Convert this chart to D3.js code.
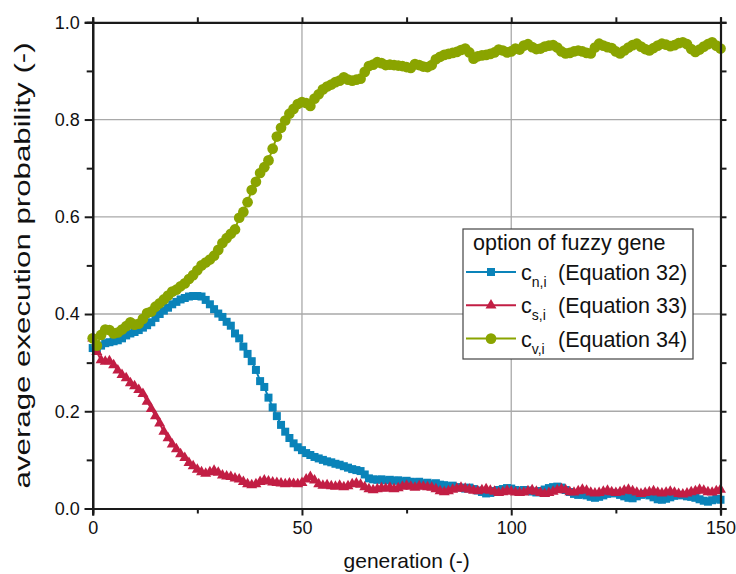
<!DOCTYPE html>
<html>
<head>
<meta charset="utf-8">
<script src="https://cdn.jsdelivr.net/npm/d3@7"></script>
<style>
  html, body { margin: 0; padding: 0; background: #fff; }
  svg { display: block; font-family: "Liberation Sans", Arial, sans-serif; }
</style>
</head>
<body>
<svg id="chart" width="736" height="574"></svg>
<script>
// generation index 0..150
const generations = d3.range(0, 151);

// c_n,i (Equation 32)
const cnValues = [
  0.330, 0.326, 0.335, 0.340, 0.342, 0.344, 0.346, 0.350, 0.356, 0.360,
  0.363, 0.367, 0.372, 0.377, 0.383, 0.392, 0.400, 0.407, 0.413, 0.420,
  0.425, 0.430, 0.433, 0.436, 0.437, 0.437, 0.436, 0.429, 0.420, 0.410,
  0.401, 0.394, 0.384, 0.376, 0.360, 0.350, 0.333, 0.318, 0.303, 0.285,
  0.262, 0.250, 0.228, 0.208, 0.190, 0.172, 0.158, 0.145, 0.134, 0.126,
  0.120, 0.114, 0.110, 0.106, 0.103, 0.100, 0.097, 0.095, 0.092, 0.090,
  0.087, 0.084, 0.081, 0.079, 0.077, 0.070, 0.062, 0.060, 0.059, 0.060,
  0.058, 0.059, 0.057, 0.058, 0.056, 0.057, 0.055, 0.054, 0.055, 0.052,
  0.053, 0.050, 0.052, 0.049, 0.048, 0.046, 0.047, 0.044, 0.043, 0.041,
  0.043, 0.040, 0.037, 0.034, 0.031, 0.032, 0.036, 0.038, 0.040, 0.042,
  0.041, 0.038, 0.036, 0.038, 0.037, 0.035, 0.033, 0.036, 0.039, 0.042,
  0.044, 0.045, 0.043, 0.038, 0.034, 0.030, 0.028, 0.029, 0.027, 0.024,
  0.022, 0.024, 0.027, 0.030, 0.032, 0.031, 0.028, 0.025, 0.022, 0.021,
  0.025, 0.028, 0.030, 0.027, 0.023, 0.019, 0.018, 0.020, 0.023, 0.026,
  0.028, 0.027, 0.025, 0.024, 0.022, 0.019, 0.016, 0.014, 0.017, 0.020,
  0.018
];

// c_s,i (Equation 33)
const csValues = [
  0.350, 0.322, 0.305, 0.302, 0.303, 0.295, 0.284, 0.275, 0.268, 0.258,
  0.252, 0.244, 0.236, 0.220, 0.205, 0.190, 0.175, 0.158, 0.145, 0.132,
  0.122, 0.112, 0.104, 0.094, 0.087, 0.080, 0.075, 0.072, 0.075, 0.078,
  0.074, 0.068, 0.066, 0.065, 0.062, 0.060, 0.055, 0.050, 0.048, 0.050,
  0.055, 0.058, 0.056, 0.054, 0.053, 0.052, 0.050, 0.052, 0.051, 0.050,
  0.053, 0.060, 0.065, 0.058, 0.050, 0.047, 0.048, 0.046, 0.045, 0.047,
  0.044, 0.046, 0.050, 0.052, 0.049, 0.044, 0.040, 0.038, 0.040, 0.042,
  0.041, 0.043, 0.040, 0.042, 0.045, 0.047, 0.045, 0.043, 0.046, 0.045,
  0.044, 0.043, 0.040, 0.036, 0.034, 0.036, 0.039, 0.041, 0.043, 0.041,
  0.039, 0.037, 0.036, 0.038, 0.040, 0.037, 0.035, 0.032, 0.034, 0.037,
  0.035, 0.033, 0.032, 0.033, 0.036, 0.038, 0.035, 0.032, 0.030, 0.032,
  0.035, 0.038, 0.040, 0.038, 0.034, 0.033, 0.036, 0.039, 0.037, 0.033,
  0.031, 0.032, 0.035, 0.037, 0.034, 0.032, 0.034, 0.037, 0.039, 0.036,
  0.033, 0.030, 0.032, 0.034, 0.036, 0.033, 0.031, 0.033, 0.035, 0.033,
  0.030, 0.029, 0.031, 0.034, 0.036, 0.039, 0.037, 0.034, 0.033, 0.036,
  0.039
];

// c_v,i (Equation 34)
const cvValues = [
  0.350, 0.335, 0.357, 0.368, 0.367, 0.360, 0.362, 0.368, 0.375, 0.383,
  0.378, 0.380, 0.390, 0.402, 0.405, 0.415, 0.422, 0.430, 0.438, 0.446,
  0.450, 0.457, 0.463, 0.472, 0.480, 0.490, 0.500, 0.506, 0.512, 0.520,
  0.532, 0.546, 0.556, 0.565, 0.574, 0.598, 0.610, 0.630, 0.655, 0.672,
  0.690, 0.702, 0.716, 0.740, 0.765, 0.783, 0.798, 0.812, 0.822, 0.832,
  0.836, 0.834, 0.828, 0.843, 0.852, 0.862, 0.868, 0.872, 0.877, 0.880,
  0.887, 0.882, 0.880, 0.882, 0.884, 0.898, 0.910, 0.913, 0.918, 0.916,
  0.912, 0.913, 0.912, 0.911, 0.910, 0.908, 0.906, 0.914, 0.912, 0.909,
  0.908, 0.912, 0.924, 0.929, 0.933, 0.935, 0.937, 0.939, 0.943, 0.946,
  0.938, 0.925, 0.930, 0.932, 0.933, 0.935, 0.938, 0.944, 0.942, 0.938,
  0.940, 0.946, 0.944, 0.952, 0.955, 0.949, 0.945, 0.946, 0.950, 0.952,
  0.953, 0.948, 0.940, 0.936, 0.937, 0.940, 0.942, 0.940, 0.937, 0.936,
  0.948, 0.956, 0.952, 0.949, 0.947, 0.940, 0.936, 0.942, 0.948, 0.953,
  0.956, 0.950, 0.945, 0.942, 0.947, 0.952, 0.956, 0.954, 0.951, 0.953,
  0.957, 0.959, 0.955, 0.945, 0.939, 0.944, 0.950, 0.955, 0.959, 0.952,
  0.946
];

const xTickLabels = [0, 50, 100, 150];
const yTickLabels = [0.0, 0.2, 0.4, 0.6, 0.8, 1.0];
const legendTitle = "option of fuzzy gene";
const seriesNames = ["n,i", "s,i", "v,i"];
const seriesEquations = ["(Equation 32)", "(Equation 33)", "(Equation 34)"];

const series = [
  { sub: seriesNames[0], eq: seriesEquations[0], values: cnValues, color: "#0a83b9", symbol: d3.symbolSquare, size: 64 },
  { sub: seriesNames[1], eq: seriesEquations[1], values: csValues, color: "#c21e44", symbol: d3.symbolTriangle, size: 52 },
  { sub: seriesNames[2], eq: seriesEquations[2], values: cvValues, color: "#8aa400", symbol: d3.symbolCircle, size: 90 }
];

const svg = d3.select("#chart");
const plot = { left: 92.7, right: 720.5, top: 22.3, bottom: 508.5 };

const x = d3.scaleLinear().domain([0, 150]).range([plot.left, plot.right]);
const y = d3.scaleLinear().domain([0, 1]).range([plot.bottom, plot.top]);

// grid
const grid = svg.append("g").attr("stroke", "#a9a9a9").attr("stroke-width", 1.3);
[50, 100].forEach(v => grid.append("line")
  .attr("x1", x(v)).attr("x2", x(v)).attr("y1", plot.top).attr("y2", plot.bottom));
[0.2, 0.4, 0.6, 0.8].forEach(v => grid.append("line")
  .attr("x1", plot.left).attr("x2", plot.right).attr("y1", y(v)).attr("y2", y(v)));

// series: lines + markers
const line = d3.line().x((d, i) => x(generations[i])).y(d => y(d));
series.forEach(s => {
  const g = svg.append("g");
  g.append("path").datum(s.values)
    .attr("d", line).attr("fill", "none")
    .attr("stroke", s.color).attr("stroke-width", 2);
  g.selectAll("path.m").data(s.values).join("path")
    .attr("class", "m")
    .attr("d", d3.symbol().type(s.symbol).size(s.size))
    .attr("transform", (d, i) => `translate(${x(generations[i])},${y(d)})`)
    .attr("fill", s.color);
});

// axes
const axisColor = "#1a1a1a";
const fontTick = 18;

const bottomAxis = d3.axisBottom(x).tickValues(xTickLabels).tickSize(7).tickPadding(6).tickFormat(d3.format("d"));
const bottomMinor = d3.axisBottom(x).tickValues([25, 75, 125]).tickSize(5).tickFormat("");
const topAxis = d3.axisBottom(x).tickValues([0, 25, 50, 75, 100, 125, 150]).tickSize(-5).tickFormat("");
const leftAxis = d3.axisLeft(y).tickValues(yTickLabels).tickSize(8).tickPadding(5).tickFormat(d3.format(".1f"));
const leftMinor = d3.axisLeft(y).tickValues([0.1, 0.3, 0.5, 0.7, 0.9]).tickSize(6).tickFormat("");
const rightAxis = d3.axisLeft(y).tickValues(d3.range(0, 1.01, 0.1)).tickSize(-6).tickFormat("");

function styleAxis(g) {
  g.select(".domain").attr("stroke", axisColor).attr("stroke-width", 2.2);
  g.selectAll(".tick line").attr("stroke", axisColor).attr("stroke-width", 2);
  g.selectAll(".tick text").attr("fill", "#111").attr("font-size", fontTick)
    .attr("font-family", "Liberation Sans, Arial, sans-serif");
}

svg.append("g").attr("transform", `translate(0,${plot.bottom})`).call(bottomAxis).call(styleAxis);
svg.append("g").attr("transform", `translate(0,${plot.bottom})`).call(bottomMinor).call(styleAxis);
svg.append("g").attr("transform", `translate(0,${plot.top})`).call(topAxis).call(styleAxis);
svg.append("g").attr("transform", `translate(${plot.left},0)`).call(leftAxis).call(styleAxis);
svg.append("g").attr("transform", `translate(${plot.left},0)`).call(leftMinor).call(styleAxis);
svg.append("g").attr("transform", `translate(${plot.right},0)`).call(rightAxis).call(styleAxis);

// axis titles
svg.append("text")
  .attr("x", (plot.left + plot.right) / 2).attr("y", 568)
  .attr("text-anchor", "middle").attr("font-size", 21).attr("fill", "#111")
  .text("generation (-)");
svg.append("text")
  .attr("transform", `translate(30,${(plot.top + plot.bottom) / 2}) rotate(-90) scale(1.42,1)`)
  .attr("text-anchor", "middle").attr("font-size", 22).attr("fill", "#111")
  .text("average execution probability (-)");

// legend
const lg = svg.append("g");
lg.append("rect").attr("x", 463).attr("y", 229).attr("width", 230).attr("height", 130)
  .attr("fill", "#fff").attr("stroke", "#444").attr("stroke-width", 1.2);
lg.append("text").attr("x", 473).attr("y", 250).attr("font-size", 21.5).attr("fill", "#111")
  .text(legendTitle);
series.forEach((s, i) => {
  const cy = 272 + i * 33.3;
  lg.append("line").attr("x1", 466).attr("x2", 516).attr("y1", cy).attr("y2", cy)
    .attr("stroke", s.color).attr("stroke-width", 2);
  lg.append("path").attr("d", d3.symbol().type(s.symbol).size(s.size)())
    .attr("transform", `translate(491,${cy})`).attr("fill", s.color);
  const t = lg.append("text").attr("x", 521).attr("y", cy + 8).attr("font-size", 21.5).attr("fill", "#111");
  t.append("tspan").text("c");
  t.append("tspan").attr("font-size", 14).attr("dy", 7).text(s.sub);
  lg.append("text").attr("x", 558).attr("y", cy + 8).attr("font-size", 21.5).attr("fill", "#111")
    .text(s.eq);
});
</script>
</body>
</html>
